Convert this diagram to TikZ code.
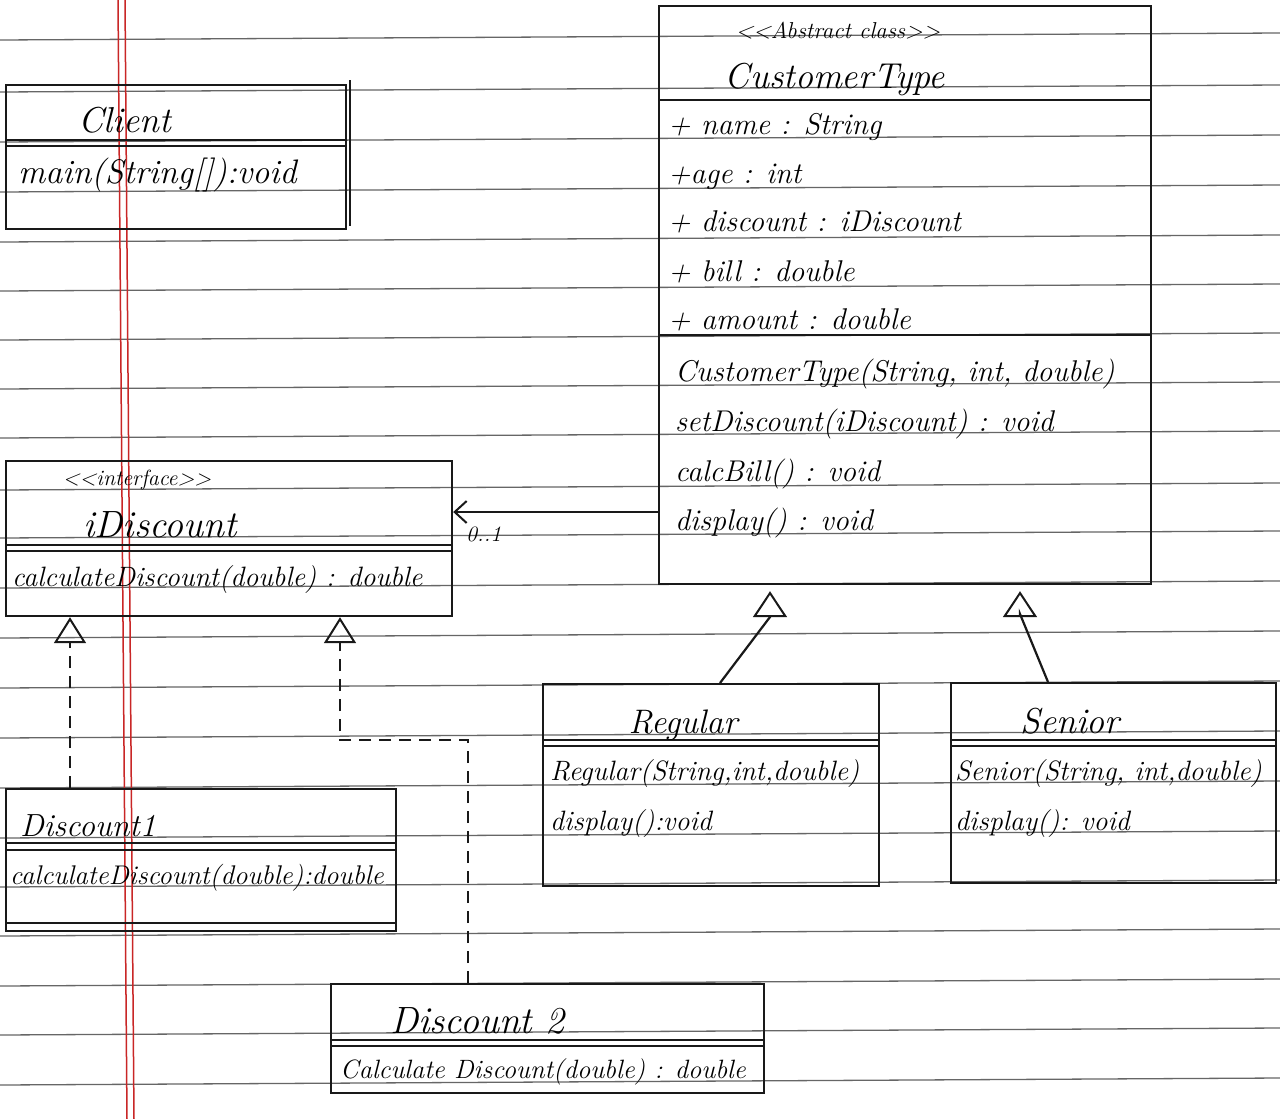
\documentclass[tikz,border=0pt]{standalone}
\usepackage{fontspec}
\usetikzlibrary{arrows.meta}
\newcommand\hw[1]{\fontsize{#1}{#1}\selectfont\itshape}
\tikzset{
  ink/.style={line width=2.2pt, draw=black!90},
  box/.style={draw, ink, anchor=north west, inner sep=0pt},
  div/.style={ink},
  txt/.style={anchor=base west, inner sep=0pt, text=black},
  ttl/.style={anchor=base, inner sep=0pt, text=black},
  rule/.style={line width=1.3pt, draw=black!60},
  margin/.style={line width=1.5pt, draw=red!75!black!85},
  real/.style={ink, dash pattern=on 12pt off 8pt, -{Triangle[open, length=26pt, width=32pt, line width=2pt]}},
  gen/.style={ink, shorten >=6pt, -{Triangle[open, length=26pt, width=34pt, line width=2pt]}},
  assoc/.style={ink, -{Straight Barb[length=12pt, width=22pt, line width=2pt]}},
}
\begin{document}
\begin{tikzpicture}[x=1pt, y=-1pt]
\useasboundingbox (0,0) rectangle (1280,1119);
\fill[white] (0,0) rectangle (1280,1119);
% notebook ruling
\foreach \yy in {40,92,142,192,242,291,340,389,438,490,538,588,638,688,738,788,838,887,936,986,1035,1085}
  \draw[rule] (0,\yy) -- (1280,\yy-7);
\draw[margin] (118,0) -- (127,1119);
\draw[margin] (125,0) -- (134,1119);

% ---- CustomerType
\node[box, minimum width=492pt, minimum height=578pt] (ct) at (658,5) {};
\draw[div] (ct.west |- 0,100) -- (ct.east |- 0,100);
\draw[div] (ct.west |- 0,335) -- (ct.east |- 0,335);
\node[ttl, font=\hw{23}] (ctst) at (838,38) {<\kern0pt<Abstract class>\kern0pt>};
\node[ttl, font=\hw{36}] (ctname) at (835,88) {CustomerType};
\node[txt, font=\hw{30}] (a1) at (668,134) {+ name : String};
\node[txt, font=\hw{30}] (a2) at (668,183) {+age : int};
\node[txt, font=\hw{30}] (a3) at (668,231) {+ discount : iDiscount};
\node[txt, font=\hw{30}] (a4) at (668,281) {+ bill : double};
\node[txt, font=\hw{30}] (a5) at (668,329) {+ amount : double};
\node[txt, font=\hw{30}] (m1) at (675,381) {CustomerType(String, int, double)};
\node[txt, font=\hw{30}] (m2) at (675,431) {setDiscount(iDiscount) : void};
\node[txt, font=\hw{30}] (m3) at (675,481) {calcBill() : void};
\node[txt, font=\hw{30}] (m4) at (675,530) {display() : void};

% ---- Client
\node[box, minimum width=340pt, minimum height=144pt] (client) at (5,84) {};
\draw[div] (client.west |- 0,140) -- (client.east |- 0,140);
\draw[div] (client.west |- 0,146) -- (client.east |- 0,146);
\draw[div] (350,80) -- (350,226);
\node[ttl, font=\hw{36}] (clname) at (125,132) {Client};
\node[txt, font=\hw{34}] (clm) at (18,183) {main(String[]):void};

% ---- iDiscount
\node[box, minimum width=446pt, minimum height=155pt] (idisc) at (5,460) {};
\draw[div] (idisc.west |- 0,545) -- (idisc.east |- 0,545);
\draw[div] (idisc.west |- 0,551) -- (idisc.east |- 0,551);
\node[ttl, font=\hw{22}] (idst) at (137,485) {<\kern0pt<interface>\kern0pt>};
\node[ttl, font=\hw{38}] (idname) at (160,537) {iDiscount};
\node[txt, font=\hw{28}] (idm) at (12,586) {calculateDiscount(double) : double};

% ---- Discount1
\node[box, minimum width=390pt, minimum height=142pt] (d1) at (5,788) {};
\draw[div] (d1.west |- 0,843) -- (d1.east |- 0,843);
\draw[div] (d1.west |- 0,850) -- (d1.east |- 0,850);
\draw[div] (d1.west |- 0,923) -- (d1.east |- 0,923);
\node[txt, font=\hw{32}] (d1name) at (20,836) {Discount1};
\node[txt, font=\hw{27}] (d1m) at (10,884) {calculateDiscount(double):double};

% ---- Discount2
\node[box, minimum width=433pt, minimum height=109pt] (d2) at (330,983) {};
\draw[div] (d2.west |- 0,1040) -- (d2.east |- 0,1040);
\draw[div] (d2.west |- 0,1046) -- (d2.east |- 0,1046);
\node[txt, font=\hw{38}] (d2name) at (390,1033) {Discount 2};
\node[txt, font=\hw{26.5}] (d2m) at (340,1078) {Calculate Discount(double) : double};

% ---- Regular
\node[box, minimum width=336pt, minimum height=202pt] (reg) at (542,683) {};
\draw[div] (reg.west |- 0,740) -- (reg.east |- 0,740);
\draw[div] (reg.west |- 0,746) -- (reg.east |- 0,746);
\node[ttl, font=\hw{34}] (regname) at (683,733) {Regular};
\node[txt, font=\hw{28}] (regm1) at (550,780) {Regular(String,int,double)};
\node[txt, font=\hw{28}] (regm2) at (550,830) {display():void};

% ---- Senior
\node[box, minimum width=325pt, minimum height=200pt] (sen) at (950,682) {};
\draw[div] (sen.west |- 0,740) -- (sen.east |- 0,740);
\draw[div] (sen.west |- 0,746) -- (sen.east |- 0,746);
\node[ttl, font=\hw{36}] (senname) at (1070,733) {Senior};
\node[txt, font=\hw{28}] (senm1) at (955,780) {Senior(String, int,double)};
\node[txt, font=\hw{28}] (senm2) at (955,830) {display(): void};

% ---- connectors
\draw[assoc] (ct.west |- 0,512) -- (idisc.east |- 0,512);
\node[txt, font=\hw{22}] (mult) at (466,541) {0..1};
\draw[real] (d1.north -| 70,0) -- (idisc.south -| 70,0);
\draw[real] (d2.north -| 468,0) -- (468,740) -- (340,740) -- (idisc.south -| 340,0);
\draw[gen] (reg.north -| 720,0) -- (770,617) -- (ct.south -| 770,0);
\draw[gen] (sen.north -| 1048,0) -- (1020,614) -- (ct.south -| 1020,0);
\end{tikzpicture}
\end{document}
